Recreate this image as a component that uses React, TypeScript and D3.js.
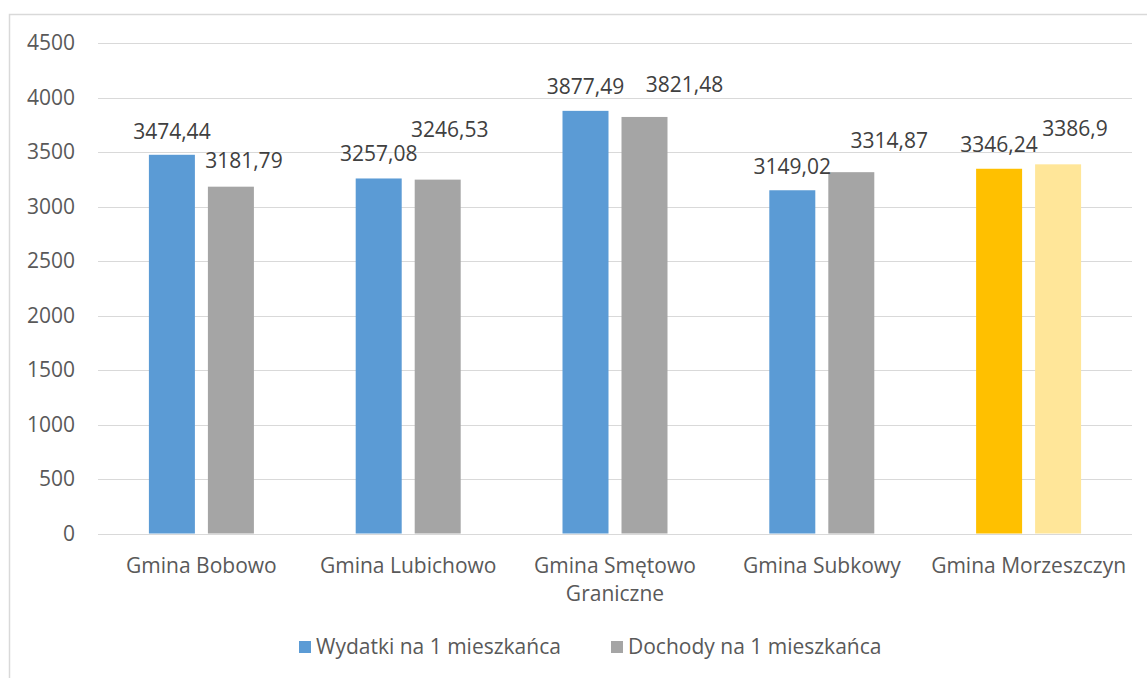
import React from "react";
import * as d3 from "d3";

const categories = [
  ["Gmina Bobowo"],
  ["Gmina Lubichowo"],
  ["Gmina Smętowo", "Graniczne"],
  ["Gmina Subkowy"],
  ["Gmina Morzeszczyn"],
];
const wydatki = [3474.44, 3257.08, 3877.49, 3149.02, 3346.24];
const dochody = [3181.79, 3246.53, 3821.48, 3314.87, 3386.9];
const wydatkiLabels = ["3474,44", "3257,08", "3877,49", "3149,02", "3346,24"];
const dochodyLabels = ["3181,79", "3246,53", "3821,48", "3314,87", "3386,9"];
const yTicks = [0, 500, 1000, 1500, 2000, 2500, 3000, 3500, 4000, 4500];
const seriesNames = ["Wydatki na 1 mieszkańca", "Dochody na 1 mieszkańca"];

// label offsets (dx, dy of text center relative to bar top center) – layout only
const wLabelOff = [[0, -23], [0, -25], [0, -24], [0, -24], [0, -24]];
const dLabelOff = [[13, -26], [12, -50], [40, -32], [38, -32], [17, -36]];

const W = 1147;
const H = 678;
const FONT = "'Open Sans', sans-serif";
const TXT = "#595959";
const BLUE = "#5B9BD5";
const GRAY = "#A5A5A5";
const GOLD = "#FFC000";
const LGOLD = "#FFE699";

export default function App() {
  const x = d3.scaleBand<number>().domain(d3.range(categories.length)).range([98, 1132]).padding(0);
  const y = d3.scaleLinear().domain([0, 4500]).range([533.5, 43]);
  const barW = 46;
  const gap = 13;
  const fs = 21;

  const colW = (i: number) => (i === 4 ? GOLD : BLUE);
  const colD = (i: number) => (i === 4 ? LGOLD : GRAY);

  return (
    <svg width={W} height={H} style={{ position: "absolute", left: 0, top: 0 }} fontFamily={FONT}>
      <rect x={0} y={0} width={W} height={H} fill="#fff" />
      <rect x={9.5} y={14.5} width={W + 10} height={H + 10} fill="none" stroke="#D9D9D9" strokeWidth={1.5} />
      {yTicks.map((t) => (
        <g key={t}>
          <line x1={98} x2={1132} y1={Math.round(y(t)) + 0.5} y2={Math.round(y(t)) + 0.5} stroke="#D9D9D9" strokeWidth={1.2} />
          <text x={75} y={y(t)} dy="0.35em" textAnchor="end" fontSize={fs} fill={TXT}>
            {t}
          </text>
        </g>
      ))}
      {categories.map((c, i) => {
        const cx = (x(i) as number) + x.bandwidth() / 2;
        const xw = cx - gap / 2 - barW;
        const xd = cx + gap / 2;
        return (
          <g key={i}>
            <rect x={xw} y={y(wydatki[i])} width={barW} height={y(0) - y(wydatki[i])} fill={colW(i)} />
            <rect x={xd} y={y(dochody[i])} width={barW} height={y(0) - y(dochody[i])} fill={colD(i)} />
            <text
              x={xw + barW / 2 + wLabelOff[i][0]}
              y={y(wydatki[i]) + wLabelOff[i][1]}
              dy="0.35em"
              textAnchor="middle"
              fontSize={fs}
              fill="#404040"
            >
              {wydatkiLabels[i]}
            </text>
            <text
              x={xd + barW / 2 + dLabelOff[i][0]}
              y={y(dochody[i]) + dLabelOff[i][1]}
              dy="0.35em"
              textAnchor="middle"
              fontSize={fs}
              fill="#404040"
            >
              {dochodyLabels[i]}
            </text>
            {c.map((line, k) => (
              <text key={k} x={cx} y={566 + k * 28} dy="0.35em" textAnchor="middle" fontSize={fs} fill={TXT}>
                {line}
              </text>
            ))}
          </g>
        );
      })}
      <g>
        <rect x={299} y={641} width={12} height={12} fill={BLUE} />
        <text x={316} y={647} dy="0.35em" fontSize={fs} fill={TXT}>
          {seriesNames[0]}
        </text>
        <rect x={611} y={641} width={12} height={12} fill={GRAY} />
        <text x={628} y={647} dy="0.35em" fontSize={fs} fill={TXT}>
          {seriesNames[1]}
        </text>
      </g>
    </svg>
  );
}
